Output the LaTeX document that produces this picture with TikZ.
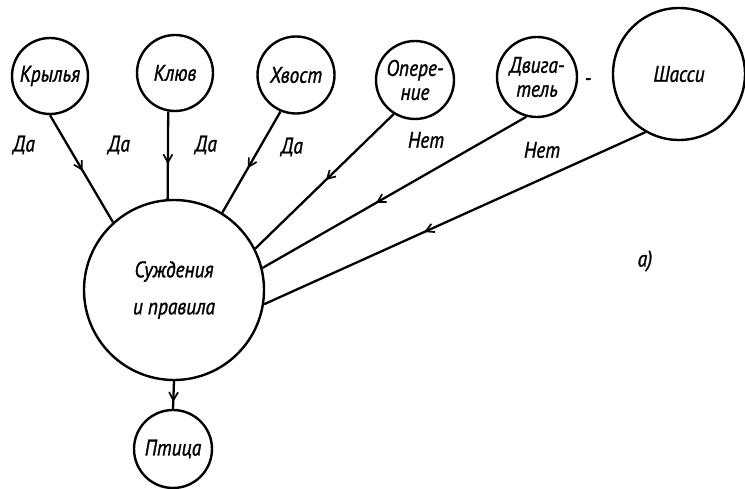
\documentclass[tikz,border=0pt]{standalone}
\usepackage{fontspec}
\setmainfont{PT Sans}[FakeStretch=0.86,FakeBold=1.2]
\usetikzlibrary{arrows.meta,decorations.markings}
\begin{document}
\begin{tikzpicture}[x=1pt,y=-1pt,
  every node/.style={font=\fontsize{22.5}{24}\selectfont\itshape},
  unit/.style={circle,draw,line width=2.4pt,inner sep=0pt,align=center},
  link/.style={line width=2.3pt},
  midarrow/.style={postaction={decorate},decoration={markings,mark=at position #1 with {\arrow{Straight Barb[length=8pt,width=9pt,line width=1.7pt]}}}},
  lbl/.style={inner sep=0pt}
]
\useasboundingbox[fill=white] (0,0) rectangle (745,489);
\node[unit,minimum size=76pt] (kr) at (50,76) {Крылья};
\node[unit,minimum size=76pt] (kl) at (175,73) {Клюв};
\node[unit,minimum size=77pt] (xv) at (296,75) {Хвост};
\node[unit,minimum size=78pt] (op) at (415,80) {Опере-\\ние};
\node[unit,minimum size=80pt] (dv) at (537,77) {Двига-\\тель};
\node[unit,minimum size=132pt] (sh) at (679,74) {Шасси};
\node[unit,minimum size=180pt] (sud) at (174,290) {Суждения\\[13pt]и правила};
\node[unit,minimum size=78pt] (pt) at (173,449) {Птица};
\draw[link,midarrow=0.52] (kr.-90) -- (sud.132);
\draw[link,midarrow=0.6] (kl.-100) -- (sud.94);
\draw[link,midarrow=0.56] (xv.-113) -- (sud.58);
\draw[link,midarrow=0.49] (op.-122) -- (sud.27);
\draw[link,midarrow=0.57] (dv.-105) -- (sud.14);
\draw[link,midarrow=0.58] (sh.-120) -- (sud.-9);
\draw[link,midarrow=0.75] (sud.-90) -- (pt.90);
\node[lbl] (d1) at (24,145) {Да};
\node[lbl] (d2) at (119,145) {Да};
\node[lbl] (d3) at (206,145) {Да};
\node[lbl] (d4) at (292,147) {Да};
\node[lbl] (n1) at (426,140) {Нет};
\node[lbl] (n2) at (542,150) {Нет};
\node[lbl] (dash) at (588,82) {-};
\node[lbl] (a) at (645,261) {а)};
\end{tikzpicture}
\end{document}
